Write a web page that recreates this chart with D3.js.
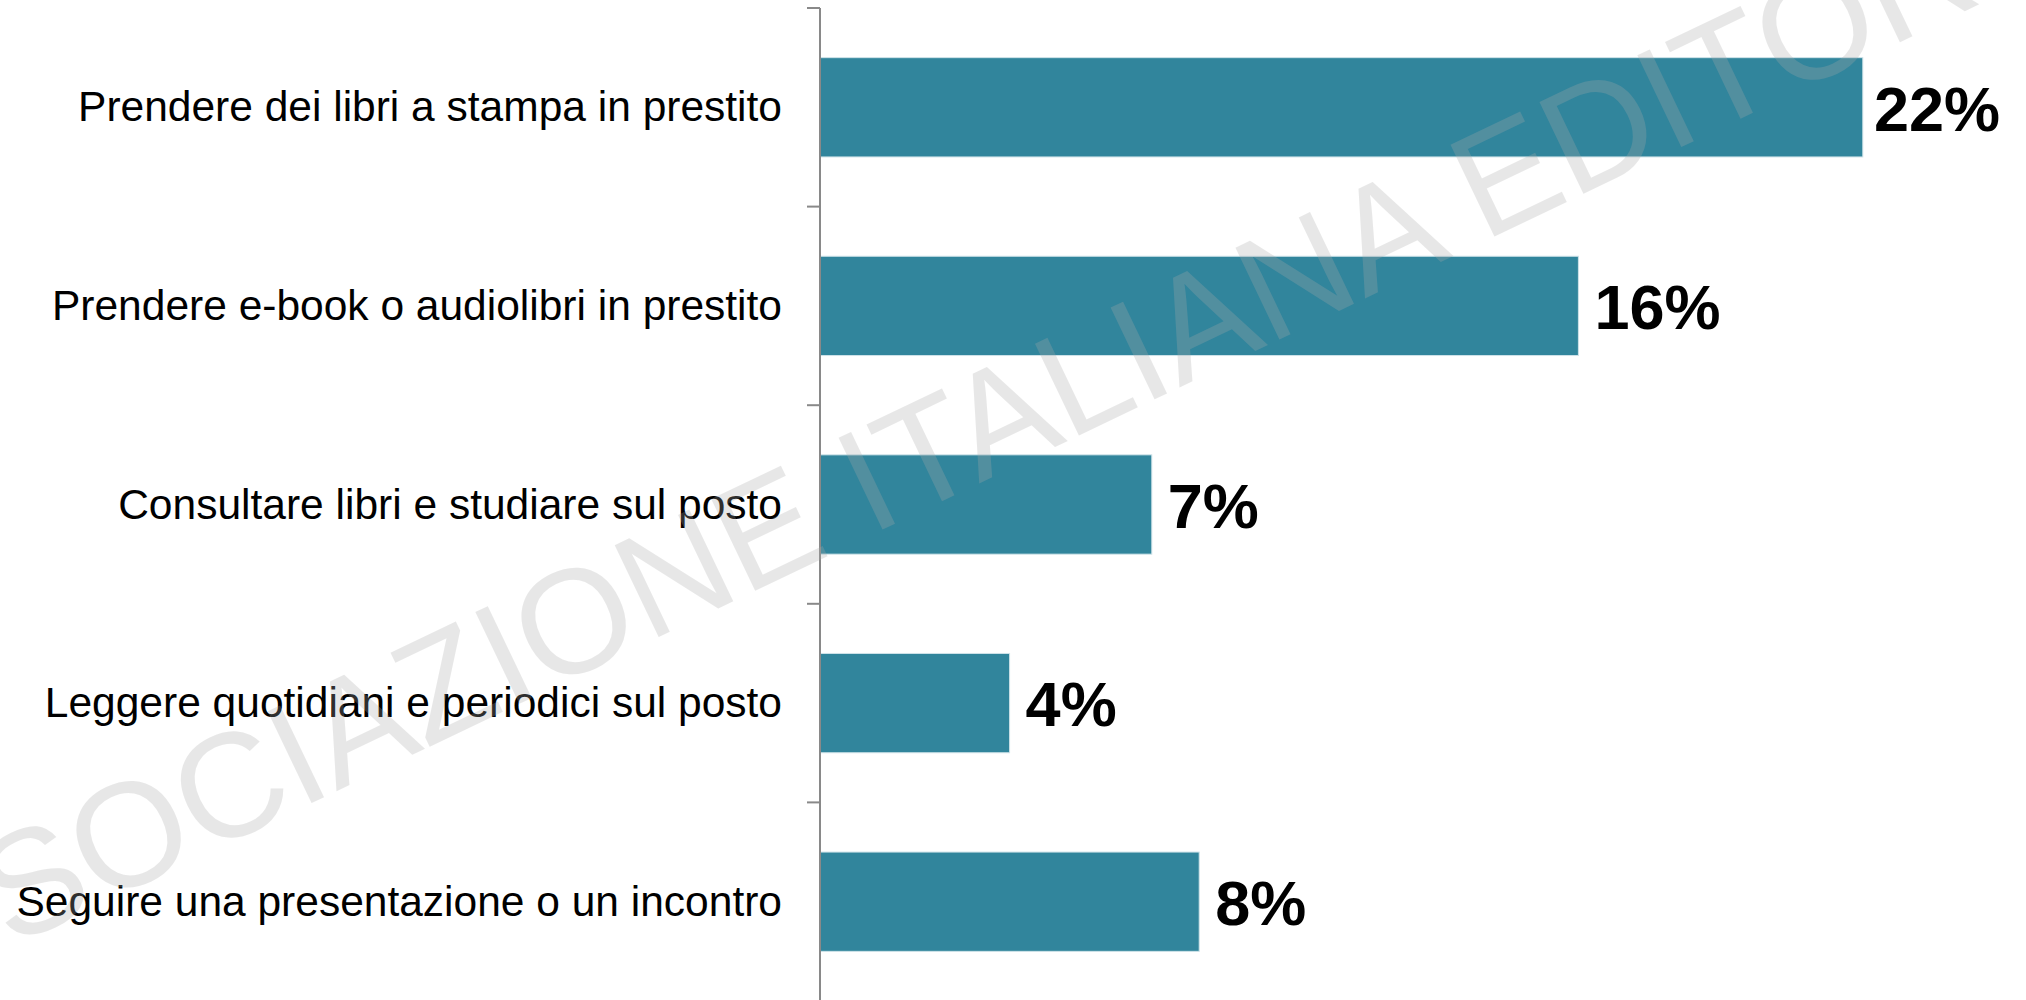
<html>
<head>
<script src="https://cdnjs.cloudflare.com/ajax/libs/d3/7.8.5/d3.min.js"></script>
<style>
  body { margin: 0; background: #fff; }
  svg { display: block; }
</style>
</head>
<body>
<script>
// Data
var categories = [
  "Prendere dei libri a stampa in prestito",
  "Prendere e-book o audiolibri in prestito",
  "Consultare libri e studiare sul posto",
  "Leggere quotidiani e periodici sul posto",
  "Seguire una presentazione o un incontro"
];
var values = [22, 16, 7, 4, 8];
var valueLabels = ["22%", "16%", "7%", "4%", "8%"];
var watermark = "ASSOCIAZIONE ITALIANA EDITORI";

var width = 2026, height = 1000;
var axisX = 820, rightEdge = 2000;

var svg = d3.select("body").append("svg")
  .attr("width", width)
  .attr("height", height);

// scales
var x = d3.scaleLinear()
  .domain([0, 25])
  .range([axisX, axisX + 25 * 47.4]);

var y = d3.scaleBand()
  .domain(categories)
  .range([8, 1001])
  .paddingInner(0.5)
  .paddingOuter(0.25);

// bars
svg.append("g").selectAll("rect")
  .data(categories)
  .enter().append("rect")
  .attr("x", x(0))
  .attr("y", function(d) { return y(d); })
  .attr("width", function(d, i) { return x(values[i]) - x(0); })
  .attr("height", y.bandwidth())
  .attr("fill", "#31859c")
  .attr("stroke", "#cfe3e9")
  .attr("stroke-width", 1);

// vertical axis with ticks at category boundaries
var ax = svg.append("g").attr("stroke", "#898989").attr("stroke-width", 2);
ax.append("line")
  .attr("x1", axisX).attr("x2", axisX)
  .attr("y1", y.range()[0]).attr("y2", height + 5);
var bounds = categories.map(function(d) { return y(d) - y.step() * 0.25; });
ax.selectAll(".tick")
  .data(bounds)
  .enter().append("line")
  .attr("class", "tick")
  .attr("x1", axisX - 13).attr("x2", axisX)
  .attr("y1", function(d) { return d; })
  .attr("y2", function(d) { return d; });

// category labels
svg.append("g").selectAll("text")
  .data(categories)
  .enter().append("text")
  .attr("x", axisX - 38)
  .attr("y", function(d) { return y(d) + y.bandwidth() / 2; })
  .attr("dy", "0.33em")
  .attr("text-anchor", "end")
  .attr("font-family", "'Liberation Sans', Arial, sans-serif")
  .attr("font-size", 42.5)
  .attr("fill", "#000")
  .text(function(d) { return d; });

// value labels, kept inside the right edge
svg.append("g").selectAll("text")
  .data(categories)
  .enter().append("text")
  .attr("y", function(d) { return y(d) + y.bandwidth() / 2; })
  .attr("dy", "0.37em")
  .attr("font-family", "'Liberation Sans', Arial, sans-serif")
  .attr("font-weight", "bold")
  .attr("font-size", 63)
  .attr("fill", "#000")
  .text(function(d, i) { return valueLabels[i]; })
  .attr("x", function(d, i) {
    var w = this.getComputedTextLength();
    return Math.min(x(values[i]) + 16, rightEdge - w);
  });

// watermark
svg.append("text")
  .attr("transform", "translate(-168,1033) rotate(-25.6)")
  .attr("font-family", "'Liberation Sans', Arial, sans-serif")
  .attr("font-size", 148)
  .attr("fill", "#aaa")
  .attr("opacity", 0.27)
  .text(watermark);
</script>
</body>
</html>
